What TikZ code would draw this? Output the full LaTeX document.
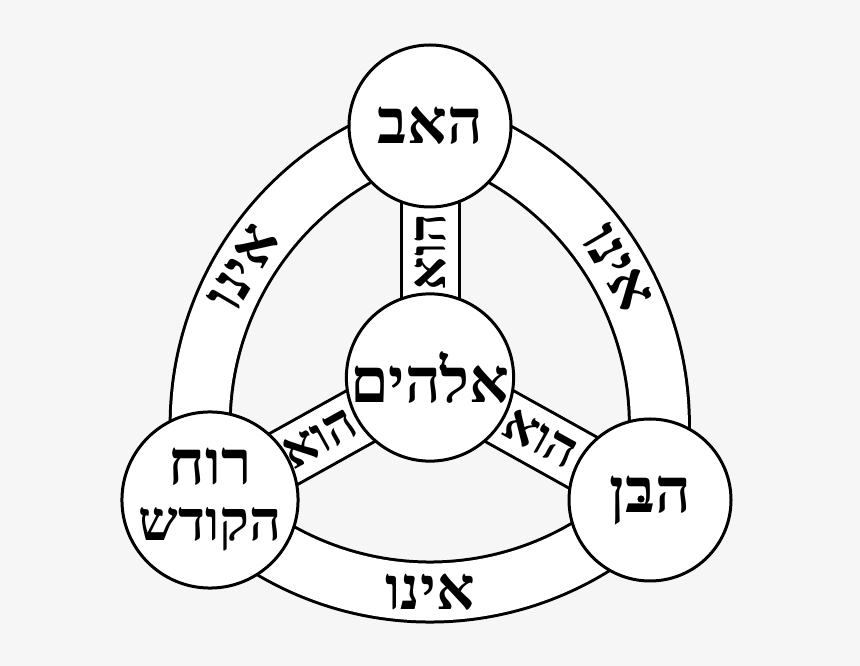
\documentclass[tikz,border=0pt]{standalone}
\usepackage{fontspec}
\usetikzlibrary{calc}
\TeXXeTstate=1
\newfontfamily\heb[Script=Hebrew]{Liberation Serif}
\definecolor{bgc}{HTML}{F6F6F6}
\pgfdeclarelayer{bglayer}
\pgfdeclarelayer{midlayer}
\pgfsetlayers{bglayer,midlayer,main}
\begin{document}
\begin{tikzpicture}[x=1pt,y=1pt,
  circ/.style={circle,draw,line width=3pt,fill=white,minimum size=162pt,inner sep=0pt,
    font=\heb\bfseries\fontsize{62}{64}\selectfont,align=center},
  band/.style={line width=3pt,double=white,double distance=57pt,line join=round},
  spoke/.style={line width=3pt,double=white,double distance=55pt},
  bandtxt/.style={font=\heb\bfseries\fontsize{60}{62}\selectfont,inner sep=0pt},
  spoketxt/.style={font=\heb\bfseries\fontsize{52}{54}\selectfont,inner sep=0pt},
  vowelpt/.style={fill=black}]
\useasboundingbox (0,0) rectangle (860,666);
\begin{pgfonlayer}{bglayer}
\fill[bgc] (0,0) rectangle (860,666);
\end{pgfonlayer}
\node[circ] (top) at (430,540) {\beginR האב\endR};
\node[circ] (cen) at (430,288.5) {\beginR אלהים\endR};
\node[circ] (lft) at (210,166) {\beginR רוח\endR\\[-8pt]{\fontsize{56}{58}\selectfont\beginR הקודש\endR}};
\node[circ] (rgt) at (650,166) {\beginR הבן\endR};
\begin{pgfonlayer}{midlayer}
\draw[band] (lft.center) arc[start angle=224.6,end angle=315.4,radius=309pt]
  arc[start angle=-14.1,end angle=75.1,radius=309pt]
  arc[start angle=104.9,end angle=194.1,radius=309pt] -- cycle;
\draw[spoke] (cen.center) -- (top.center);
\draw[spoke] (cen.center) -- (lft.center);
\draw[spoke] (cen.center) -- (rgt.center);
\end{pgfonlayer}
% holam and dagesh points
\fill[vowelpt] ($(cen.center)+(13,10)$) circle[radius=3.6pt];
\fill[vowelpt] ($(rgt.center)+(-9,1)$) circle[radius=3.6pt];
\node[spoketxt,rotate=90] (s1) at ($(cen)!0.5!(top)$) {\beginR הוא\endR};
\node[spoketxt,rotate=29] (s2) at ($(cen)!0.5!(lft)$) {\beginR הוא\endR};
\node[spoketxt,rotate=-29] (s3) at ($(cen)!0.5!(rgt)$) {\beginR הוא\endR};
\node[bandtxt,rotate=59.5] (b1) at (243,398) {\beginR אינו\endR};
\node[bandtxt,rotate=-59.5] (b2) at (617,398) {\beginR אינו\endR};
\node[bandtxt] (b3) at (430,74) {\beginR אינו\endR};
\end{tikzpicture}
\end{document}
